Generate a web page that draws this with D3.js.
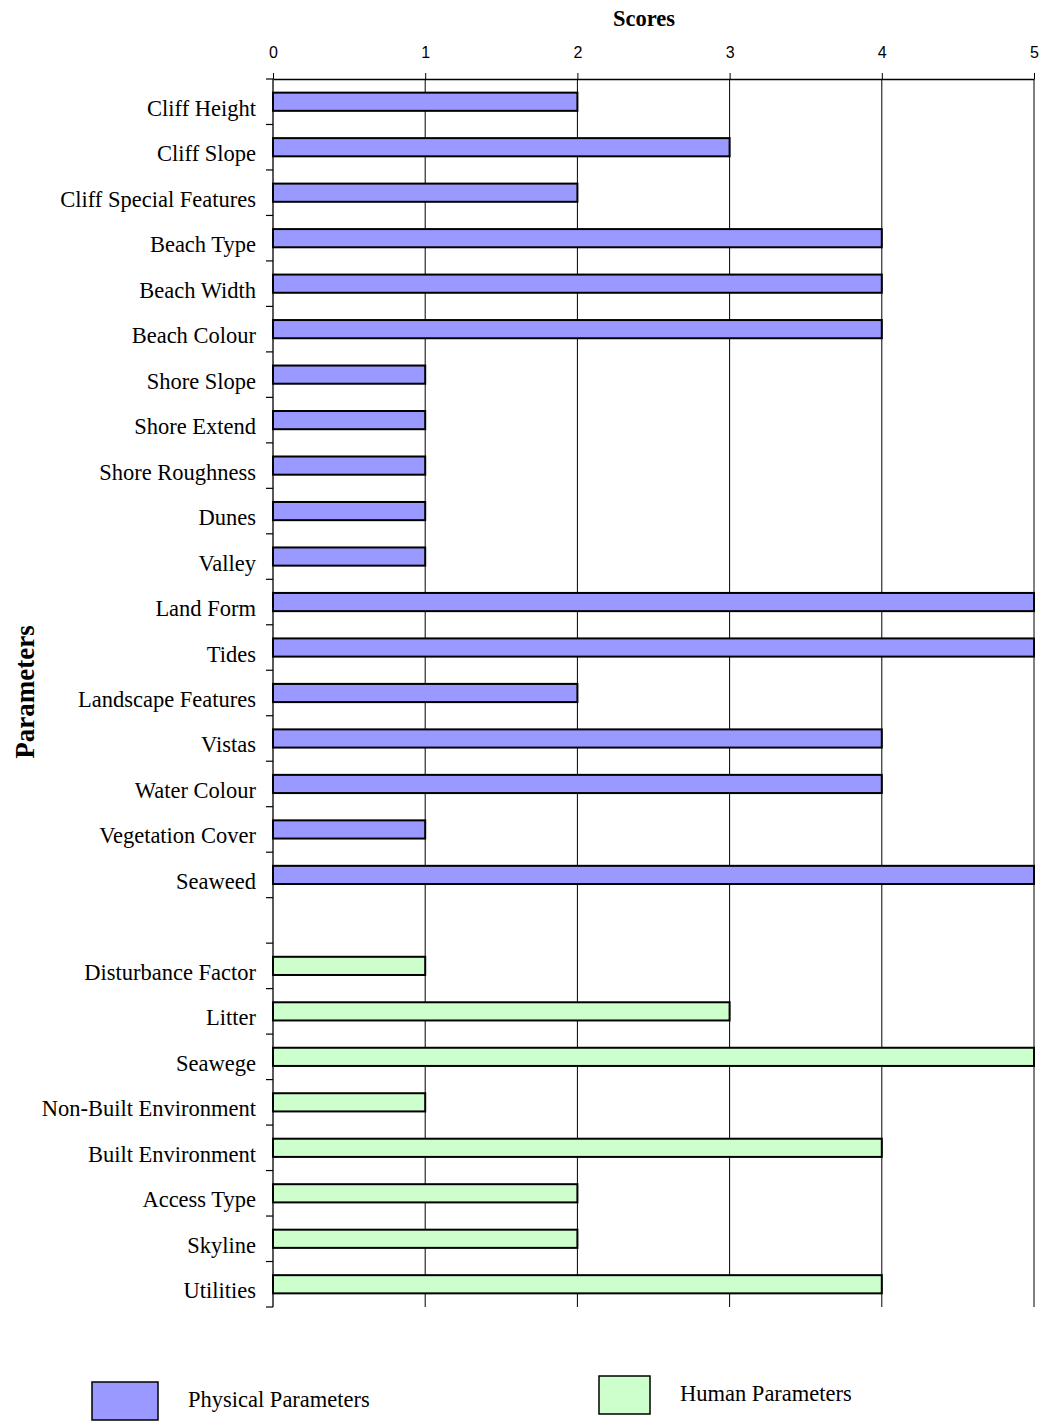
<!DOCTYPE html>
<html>
<head>
<meta charset="utf-8">
<script src="https://cdn.jsdelivr.net/npm/d3@7"></script>
<style>
  html, body { margin: 0; padding: 0; background: #fff; }
  svg { display: block; }
</style>
</head>
<body>
<div id="chart"></div>
<script>
// Scores of the coastal scenery parameters
const physicalParams = ["Cliff Height", "Cliff Slope", "Cliff Special Features", "Beach Type",
  "Beach Width", "Beach Colour", "Shore Slope", "Shore Extend", "Shore Roughness", "Dunes",
  "Valley", "Land Form", "Tides", "Landscape Features", "Vistas", "Water Colour",
  "Vegetation Cover", "Seaweed"];
const physicalScores = [2, 3, 2, 4, 4, 4, 1, 1, 1, 1, 1, 5, 5, 2, 4, 4, 1, 5];

const humanParams = ["Disturbance Factor", "Litter", "Seawege", "Non-Built Environment",
  "Built Environment", "Access Type", "Skyline", "Utilities"];
const humanScores = [1, 3, 5, 1, 4, 2, 2, 4];

const scoreTicks = [0, 1, 2, 3, 4, 5];
const seriesNames = ["Physical Parameters", "Human Parameters"];
const seriesColors = ["#9999FF", "#CCFFCC"];

const W = 1048, H = 1421;
const plotLeft = 273, plotRight = 1034, plotTop = 79, plotBottom = 1307;
const serif = "'Liberation Serif', 'Times New Roman', serif";

// One empty slot separates the two groups
const slots = [...physicalParams, "__gap__", ...humanParams];
const rows = [
  ...physicalParams.map((p, i) => ({ name: p, value: physicalScores[i], group: 0 })),
  ...humanParams.map((p, i) => ({ name: p, value: humanScores[i], group: 1 }))
];

const svg = d3.select("#chart").append("svg").attr("width", W).attr("height", H);

const x = d3.scaleLinear().domain([0, 5]).range([plotLeft, plotRight]);
const y = d3.scaleBand().domain(slots).range([plotTop, plotBottom]).paddingInner(0).paddingOuter(0);
const bw = y.bandwidth();
const barH = bw * 0.4;

// Vertical gridlines
svg.append("g").selectAll("line").data(scoreTicks.slice(1)).join("line")
  .attr("x1", d => x(d)).attr("x2", d => x(d))
  .attr("y1", plotTop).attr("y2", plotBottom)
  .attr("stroke", "#000").attr("stroke-width", 1);

// Top axis
const xAxis = svg.append("g").attr("transform", `translate(0,${plotTop})`)
  .call(d3.axisTop(x).tickValues(scoreTicks).tickFormat(d3.format("d")).tickSize(6).tickSizeOuter(0).tickPadding(15));
xAxis.attr("font-size", null).attr("font-family", null);
xAxis.select(".domain").attr("stroke", "#000").attr("stroke-width", 1.3);
xAxis.selectAll(".tick line").attr("stroke", "#000");
xAxis.selectAll("text")
  .style("font-family", "'Liberation Sans', Arial, sans-serif")
  .style("font-size", "16px").attr("fill", "#000");

// Left axis with ticks at slot boundaries
const bounds = d3.range(slots.length + 1).map(i => plotTop + i * bw);
svg.append("line").attr("x1", plotLeft).attr("x2", plotLeft).attr("y1", plotTop).attr("y2", plotBottom)
  .attr("stroke", "#000").attr("stroke-width", 1.3);
svg.append("g").selectAll("line").data(bounds).join("line")
  .attr("x1", plotLeft - 7).attr("x2", plotLeft).attr("y1", d => d).attr("y2", d => d)
  .attr("stroke", "#000").attr("stroke-width", 1.2);

// Bars
svg.append("g").selectAll("rect").data(rows).join("rect")
  .attr("x", x(0))
  .attr("y", d => y(d.name) + (bw - barH) / 2)
  .attr("width", d => x(d.value) - x(0))
  .attr("height", barH)
  .attr("fill", d => seriesColors[d.group])
  .attr("stroke", "#000").attr("stroke-width", 2);

// Category labels
svg.append("g").selectAll("text").data(rows).join("text")
  .attr("x", 256)
  .attr("y", d => y(d.name) + bw / 2 + 14)
  .attr("text-anchor", "end")
  .style("font-family", serif)
  .style("font-size", "22.5px")
  .attr("fill", "#000")
  .text(d => d.name);

// Titles
svg.append("text").attr("x", 644).attr("y", 26).attr("text-anchor", "middle")
  .style("font-family", serif).style("font-weight", "bold").style("font-size", "22.5px").text("Scores");
svg.append("text").attr("transform", "translate(34,692) rotate(-90)").attr("text-anchor", "middle")
  .style("font-family", serif).style("font-weight", "bold").style("font-size", "27px").text("Parameters");

// Legend
const legend = [
  { name: seriesNames[0], color: seriesColors[0], rx: 92, ry: 1382, rw: 66, rh: 38, tx: 188, ty: 1407 },
  { name: seriesNames[1], color: seriesColors[1], rx: 599, ry: 1376, rw: 51, rh: 38, tx: 680, ty: 1401 }
];
const lg = svg.append("g").selectAll("g").data(legend).join("g");
lg.append("rect").attr("x", d => d.rx).attr("y", d => d.ry).attr("width", d => d.rw).attr("height", d => d.rh)
  .attr("fill", d => d.color).attr("stroke", "#000").attr("stroke-width", 1.5);
lg.append("text").attr("x", d => d.tx).attr("y", d => d.ty)
  .style("font-family", serif).style("font-size", "22.5px")
  .text(d => d.name);
</script>
</body>
</html>
